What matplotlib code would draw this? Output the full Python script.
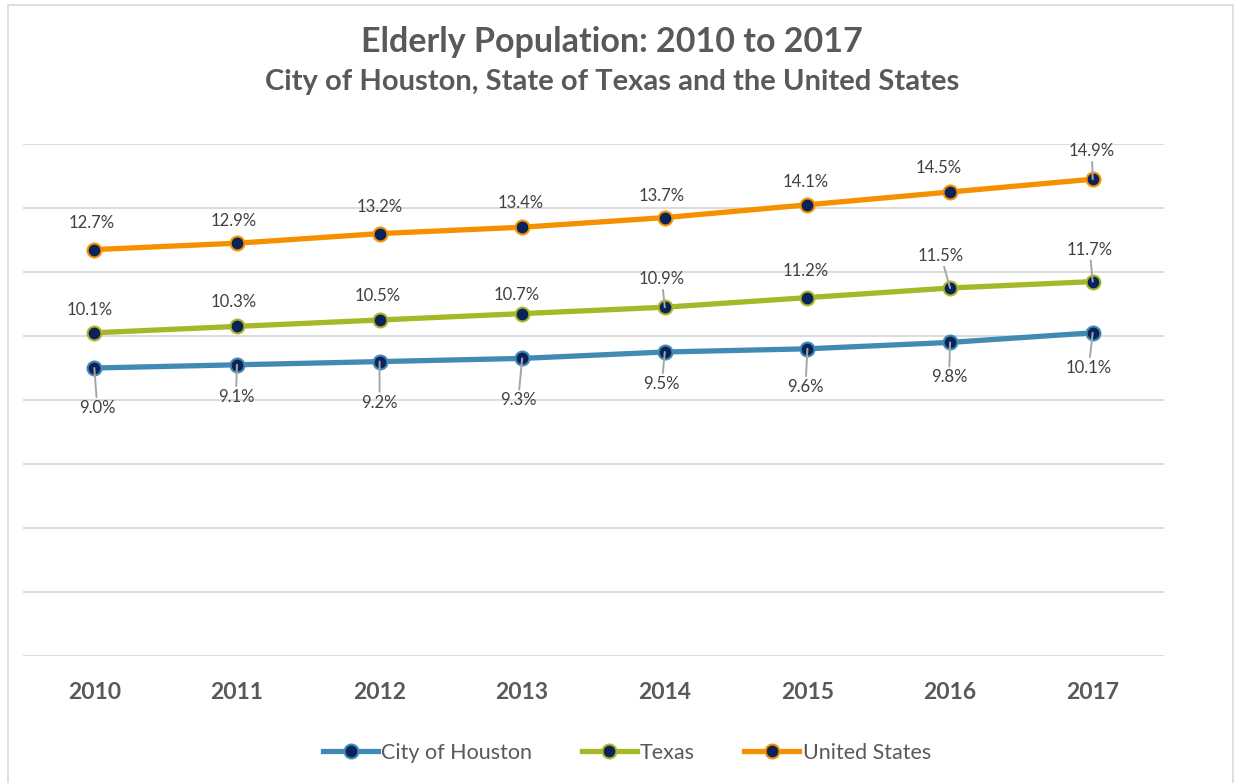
import matplotlib.pyplot as plt
from matplotlib.lines import Line2D
from matplotlib.patches import Rectangle

plt.rcParams['font.family'] = ['Lato', 'DejaVu Sans']

years = ['2010', '2011', '2012', '2013', '2014', '2015', '2016', '2017']
houston = [9.0, 9.1, 9.2, 9.3, 9.5, 9.6, 9.8, 10.1]
texas = [10.1, 10.3, 10.5, 10.7, 10.9, 11.2, 11.5, 11.7]
usa = [12.7, 12.9, 13.2, 13.4, 13.7, 14.1, 14.5, 14.9]
names = ['City of Houston', 'Texas', 'United States']

colors = ['#418AB3', '#A6B727', '#F59100']
marker_fill = '#0B2358'
text_col = '#595959'
label_col = '#404040'

# label offsets in pixels from the point (x right, y up) and whether a leader line is drawn
houston_off = [(3, -40), (-1, -32), (0, -41), (-4, -42), (-3, -32), (-2, -38), (-1, -35), (-4, -35)]
texas_off = [(-5, 23), (-3, 24), (-2, 24), (-6, 19), (-3, 28), (-2, 27), (-9, 32), (-3, 32)]
usa_off = [(-3, 27), (-3, 22), (0, 27), (-2, 24), (-3, 22), (-2, 23), (-11, 24), (-1, 28)]
houston_lead = [True] * 8
texas_lead = [False, False, False, False, True, False, True, True]
usa_lead = [False] * 7 + [True]

fig = plt.figure(figsize=(12.35, 7.83), dpi=100)
fig.patches.append(Rectangle((7.5 / 1235, -0.01), 1225 / 1235, 1 - 4.5 / 783 + 0.01,
                             transform=fig.transFigure, fill=False,
                             edgecolor='#D9D9D9', lw=1.2))

ax = fig.add_axes([23 / 1235, 1 - 656 / 783, 1141 / 1235, 512 / 783])
x = list(range(len(years)))

series = [(houston, houston_off, houston_lead),
          (texas, texas_off, texas_lead),
          (usa, usa_off, usa_lead)]

for (vals, offs, leads), c, nm in zip(series, colors, names):
    ax.plot(x, vals, color=c, lw=3.8, marker='o', markersize=10,
            markerfacecolor=marker_fill, markeredgecolor=c, markeredgewidth=1.5,
            label=nm, zorder=3, solid_capstyle='round')
    for xi, v, (dx, dy), ld in zip(x, vals, offs, leads):
        ap = None
        if ld:
            ap = dict(arrowstyle='-', color='#A6A6A6', lw=1.4, shrinkA=0, shrinkB=0)
        ax.annotate(f'{v:.1f}%', xy=(xi, v), xytext=(dx, dy), textcoords='offset pixels',
                    ha='center', va='center', fontsize=12, color=label_col,
                    arrowprops=ap, zorder=4)

ax.set_xlim(-0.5, 7.5)
ax.set_ylim(0, 16)
ax.set_yticks(range(0, 17, 2))
ax.yaxis.grid(True, color='#D9D9D9', lw=1.3)
ax.set_axisbelow(True)
ax.set_yticklabels([])
ax.tick_params(axis='y', length=0)
ax.set_xticks(x)
ax.set_xticklabels(years, fontsize=16.5, fontweight='bold', color=text_col)
ax.tick_params(axis='x', length=0, pad=18.5)
for s in ax.spines.values():
    s.set_visible(False)

fig.text(612 / 1235, 1 - 42 / 783, 'Elderly Population: 2010 to 2017', ha='center', va='center',
         fontsize=24.5, fontweight='bold', color=text_col)
fig.text(612 / 1235, 1 - 82 / 783, 'City of Houston, State of Texas and the United States',
         ha='center', va='center', fontsize=21, fontweight='bold', color=text_col)

handles = [Line2D([], [], color=c, lw=3.8, marker='o', markersize=10,
                  markerfacecolor=marker_fill, markeredgecolor=c, markeredgewidth=1.5)
           for c in colors]
fig.legend(handles, names, loc='center', bbox_to_anchor=(627 / 1235, 1 - 753 / 783),
           ncol=3, frameon=False, fontsize=15.5, labelcolor=text_col,
           handlelength=2.55, handletextpad=0.15, columnspacing=2.3)

fig.savefig('out.png', dpi=100)
